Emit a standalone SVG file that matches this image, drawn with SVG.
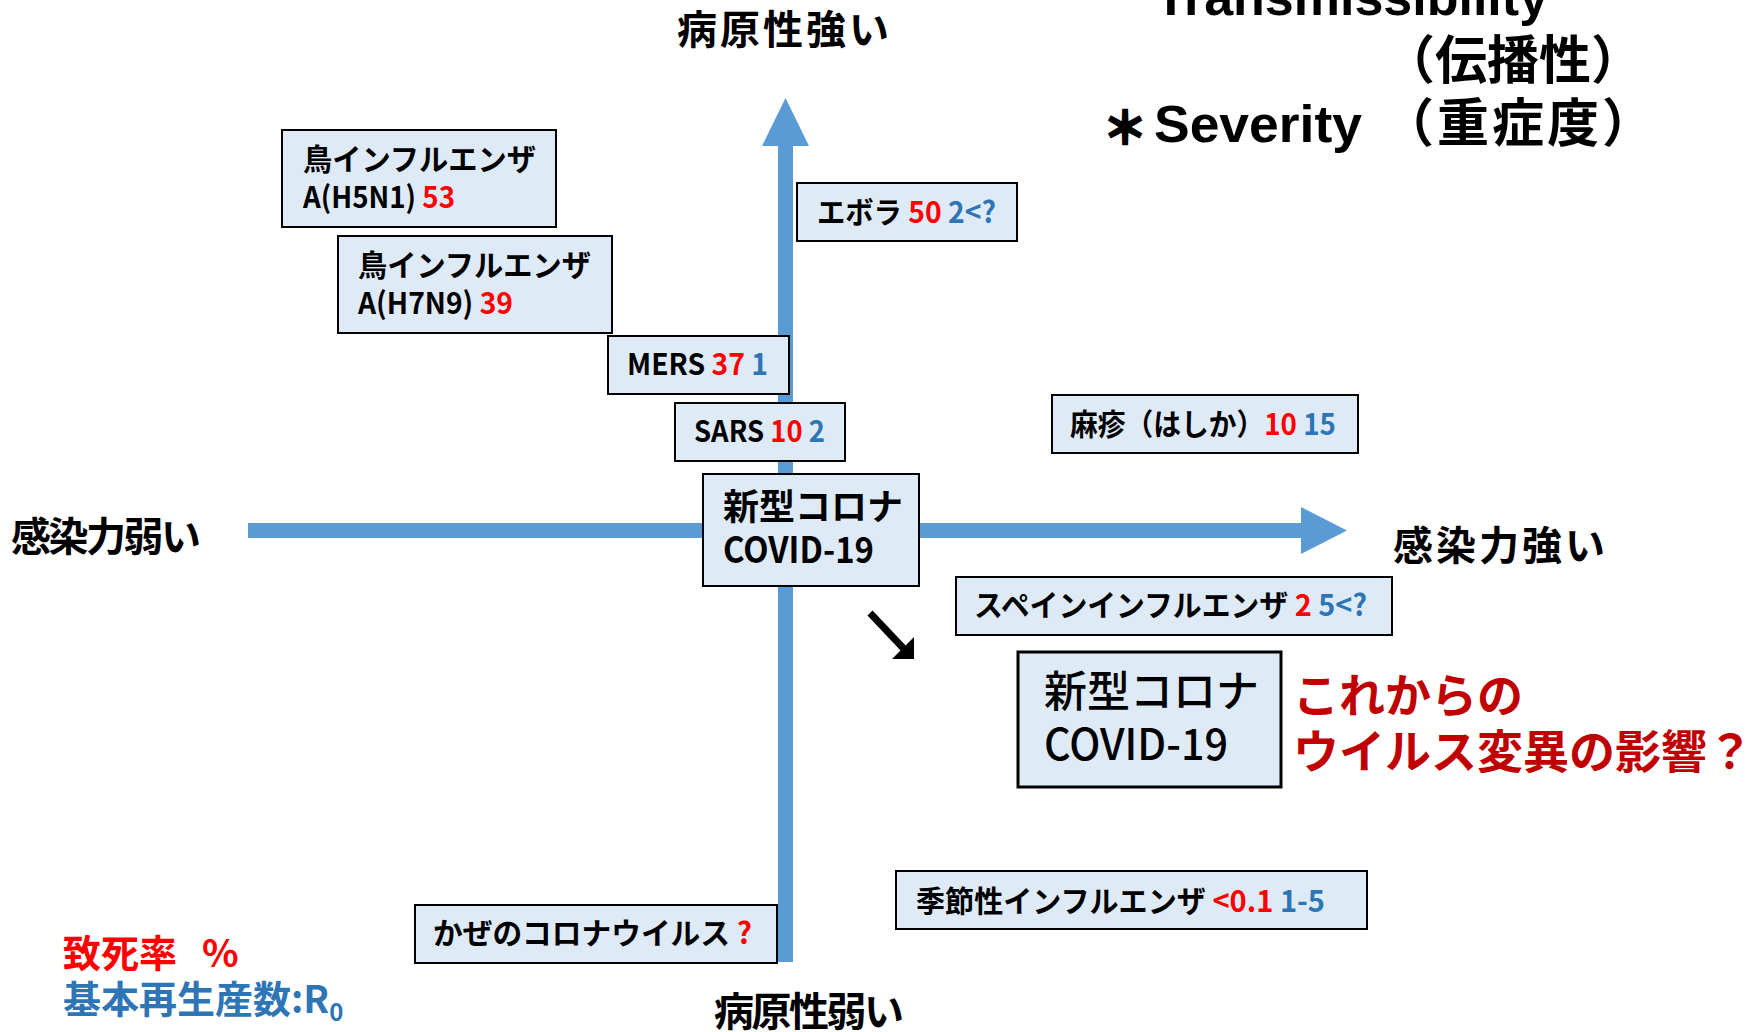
<svg xmlns="http://www.w3.org/2000/svg" width="1760" height="1032" viewBox="0 0 1760 1032">
<style>
.box{fill:#DEEBF7;stroke:#000;stroke-width:2}
.bt{font-family:"Noto Sans CJK JP","Noto Sans",sans-serif;font-size:30px;font-weight:700;fill:#000}
.r{fill:#FF0000}
.b{fill:#2E75B6}
.ax{font-family:"Noto Sans CJK JP",sans-serif;font-size:40px;font-weight:700;fill:#000}
.tt{font-family:"Liberation Sans","Noto Sans CJK JP",sans-serif;font-size:52px;font-weight:700;fill:#000}
.jp52{font-family:"Noto Sans CJK JP",sans-serif;font-size:52px;font-weight:700;fill:#000}
.red{font-family:"Noto Sans CJK JP",sans-serif;font-size:46px;font-weight:700;fill:#C00000}
.leg{font-family:"Noto Sans CJK JP",sans-serif;font-size:38px;font-weight:700}
.axis{fill:#5B9BD5}
</style>
<rect width="1760" height="1032" fill="#fff"/>
<g id="connectors">
<path class="axis" d="M778,962 L778,146 L762,146 L785.5,98 L809,146 L793,146 L793,962 Z"/>
<path class="axis" d="M248,523 L1301,523 L1301,507 L1347,530.5 L1301,554 L1301,538 L248,538 Z"/>
<line x1="870" y1="613" x2="905" y2="650" stroke="#000" stroke-width="7"/>
<polygon points="914,659 914,637 892,659" fill="#000"/>
</g>
<g id="axis-labels">
<text class="ax" x="677" y="44" letter-spacing="3">病原性強い</text>
<text class="ax" x="714" y="1026" letter-spacing="-2.5">病原性弱い</text>
<text class="ax" x="11" y="551" letter-spacing="-2.5">感染力弱い</text>
<text class="ax" x="1393" y="560" letter-spacing="3">感染力強い</text>
</g>
<g id="title">
<text class="tt" x="1155" y="15">Transmissibility</text>
<text class="jp52" x="1383" y="79">（伝播性）</text>
<text class="jp52" style="font-size:44px;stroke:#000;stroke-width:2.5" x="1103" y="144">＊</text>
<text class="tt" x="1154" y="142" textLength="208" lengthAdjust="spacingAndGlyphs">Severity</text>
<text class="jp52" x="1382" y="142" letter-spacing="3">（重症度）</text>
</g>
<g id="node-h5n1">
<rect class="box" x="282" y="130" width="274" height="97"/>
<text class="bt" x="303" y="170" textLength="233" lengthAdjust="spacingAndGlyphs">鳥インフルエンザ</text>
<text class="bt" x="303" y="208" textLength="152" lengthAdjust="spacingAndGlyphs">A(H5N1) <tspan class="r">53</tspan></text>
</g>
<g id="node-h7n9">
<rect class="box" x="338" y="236" width="274" height="97"/>
<text class="bt" x="358" y="276" textLength="233" lengthAdjust="spacingAndGlyphs">鳥インフルエンザ</text>
<text class="bt" x="358" y="314" textLength="155" lengthAdjust="spacingAndGlyphs">A(H7N9) <tspan class="r">39</tspan></text>
</g>
<g id="node-ebola">
<rect class="box" x="797" y="183" width="220" height="58"/>
<text class="bt" x="817" y="223" textLength="179" lengthAdjust="spacingAndGlyphs">エボラ <tspan class="r">50</tspan> <tspan class="b">2&lt;?</tspan></text>
</g>
<g id="node-mers">
<rect class="box" x="608" y="336" width="181" height="58"/>
<text class="bt" x="627" y="375" textLength="141" lengthAdjust="spacingAndGlyphs">MERS <tspan class="r">37</tspan> <tspan class="b">1</tspan></text>
</g>
<g id="node-sars">
<rect class="box" x="675" y="403" width="170" height="58"/>
<text class="bt" x="694" y="442" textLength="131" lengthAdjust="spacingAndGlyphs">SARS <tspan class="r">10</tspan> <tspan class="b">2</tspan></text>
</g>
<g id="node-measles">
<rect class="box" x="1052" y="395" width="306" height="58"/>
<text class="bt" x="1070" y="435" textLength="266" lengthAdjust="spacingAndGlyphs">麻疹（はしか）<tspan class="r">10</tspan> <tspan class="b">15</tspan></text>
</g>
<g id="node-covid">
<rect class="box" x="703" y="474" width="216" height="112"/>
<text class="bt" style="font-size:36px" x="723" y="520">新型コロナ</text>
<text class="bt" style="font-size:36px" x="723" y="563" textLength="151" lengthAdjust="spacingAndGlyphs">COVID-19</text>
</g>
<g id="node-spanish">
<rect class="box" x="956" y="577" width="436" height="58"/>
<text class="bt" x="974" y="616" textLength="393" lengthAdjust="spacingAndGlyphs">スペインインフルエンザ <tspan class="r">2</tspan> <tspan class="b">5&lt;?</tspan></text>
</g>
<g id="node-covid-future">
<rect class="box" style="stroke-width:3" x="1018" y="652" width="263" height="135"/>
<text class="bt" style="font-size:43px;font-weight:500" x="1044" y="707">新型コロナ</text>
<text class="bt" style="font-size:43px;font-weight:500" x="1044" y="760" textLength="184" lengthAdjust="spacingAndGlyphs">COVID-19</text>
</g>
<g id="note-variant">
<text class="red" x="1293" y="712">これからの</text>
<text class="red" x="1293" y="768">ウイルス変異の影響？</text>
</g>
<g id="node-seasonal">
<rect class="box" x="896" y="871" width="471" height="58"/>
<text class="bt" x="916" y="912" textLength="409" lengthAdjust="spacingAndGlyphs">季節性インフルエンザ <tspan class="r">&lt;0.1</tspan> <tspan class="b">1-5</tspan></text>
</g>
<g id="node-cold">
<rect class="box" x="415" y="905" width="362" height="58"/>
<text class="bt" x="433" y="944" textLength="319" lengthAdjust="spacingAndGlyphs">かぜのコロナウイルス <tspan class="r">?</tspan></text>
</g>
<g id="legend">
<text class="leg r" x="63" y="967">致死率<tspan x="202">%</tspan></text>
<text class="leg b" x="63" y="1013">基本再生産数:R<tspan font-size="24" dy="8">0</tspan></text>
</g>
</svg>
